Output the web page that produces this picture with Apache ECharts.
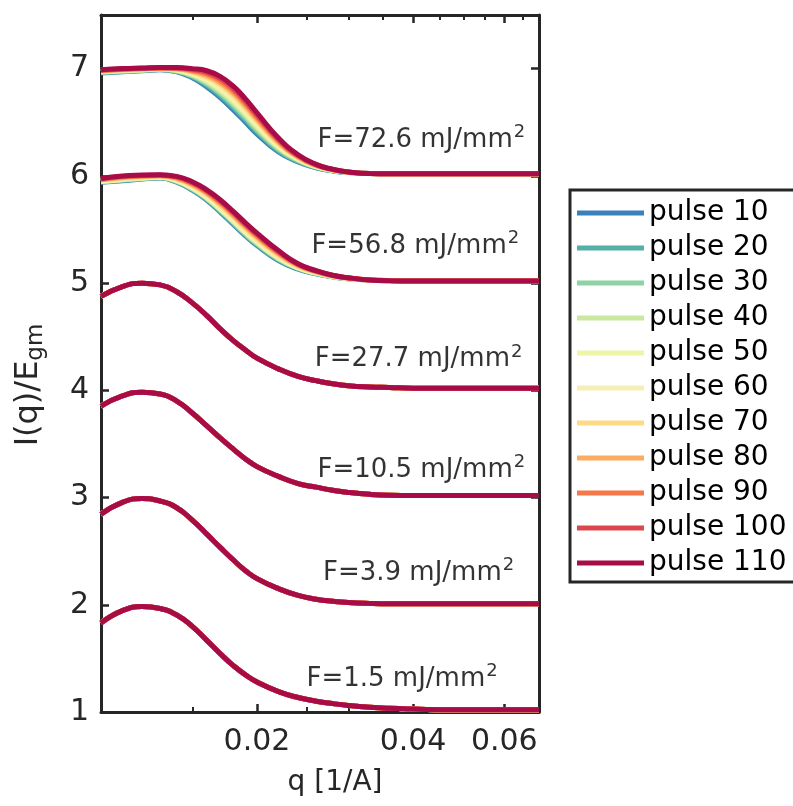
<!DOCTYPE html>
<html>
<head>
<meta charset="utf-8">
<script src="https://cdn.jsdelivr.net/npm/echarts@6/dist/echarts.min.js"></script>
<style>
html,body{margin:0;padding:0;background:#fff;}
#chart{width:793px;height:806px;}
</style>
</head>
<body>
<div id="chart"></div>
<script>
// ---- data ----
const qValues = [0.010,0.011,0.012,0.013,0.014,0.015,0.016,0.017,0.018,0.019,0.020,0.022,0.024,0.026,0.028,0.030,0.033,0.036,0.040,0.045,0.050,0.060,0.070];

const pulses = ['pulse 10','pulse 20','pulse 30','pulse 40','pulse 50','pulse 60','pulse 70','pulse 80','pulse 90','pulse 100','pulse 110'];
const pulseColors = ['#3a80bb','#52b0a8','#8dd3a4','#cbe99e','#ecf6a6','#f6efb5','#fddb85','#fdab60','#f5784a','#dc474d','#a80c48'];

const fluences = ['F=1.5 mJ/mm','F=3.9 mJ/mm','F=10.5 mJ/mm','F=27.7 mJ/mm','F=56.8 mJ/mm','F=72.6 mJ/mm'];
const labelQ = [0.0381,0.0410,0.0415,0.0410,0.0404,0.0415];
const labelY = [1.305,2.295,3.255,4.285,5.345,6.335];

// curves whose pulses overlap (same for all pulses)
const curveF1p5  = [1.83,1.945,1.983,1.965,1.905,1.798,1.668,1.542,1.433,1.346,1.279,1.19,1.135,1.101,1.078,1.061,1.044,1.034,1.027,1.022,1.02,1.02,1.02];
const curveF3p9  = [2.845,2.955,2.99,2.968,2.905,2.79,2.659,2.533,2.418,2.318,2.244,2.15,2.087,2.052,2.033,2.021,2.013,2.01,2.01,2.01,2.01,2.01,2.01];
const curveF10p5 = [3.853,3.948,3.982,3.965,3.9,3.788,3.669,3.554,3.452,3.36,3.288,3.197,3.13,3.097,3.068,3.048,3.03,3.022,3.02,3.02,3.02,3.02,3.02];
const curveF27p7 = [4.875,4.967,4.999,4.983,4.919,4.815,4.697,4.571,4.464,4.376,4.30,4.20,4.13,4.09,4.061,4.043,4.031,4.026,4.02,4.02,4.02,4.02,4.02];

// F=56.8: one row per pulse (10..110)
const curvesF56p8 = [
  [5.94,5.955,5.97,5.98,5.94,5.866,5.772,5.66,5.547,5.44,5.35,5.21,5.13,5.087,5.058,5.04,5.029,5.023,5.02,5.02,5.02,5.02,5.02],
  [5.943,5.959,5.973,5.982,5.944,5.872,5.78,5.669,5.557,5.45,5.359,5.217,5.134,5.089,5.059,5.041,5.029,5.023,5.02,5.02,5.02,5.02,5.02],
  [5.945,5.962,5.976,5.985,5.948,5.878,5.787,5.677,5.565,5.458,5.367,5.224,5.138,5.091,5.06,5.042,5.029,5.023,5.02,5.02,5.02,5.02,5.02],
  [5.948,5.965,5.978,5.987,5.952,5.883,5.794,5.685,5.574,5.467,5.376,5.23,5.141,5.093,5.061,5.042,5.029,5.023,5.02,5.02,5.02,5.02,5.02],
  [5.95,5.967,5.98,5.988,5.955,5.888,5.799,5.692,5.581,5.474,5.382,5.236,5.144,5.095,5.062,5.043,5.029,5.023,5.02,5.02,5.02,5.02,5.02],
  [5.952,5.97,5.983,5.99,5.959,5.893,5.805,5.699,5.588,5.481,5.389,5.242,5.147,5.097,5.063,5.043,5.029,5.023,5.02,5.02,5.02,5.02,5.02],
  [5.96,5.979,5.99,5.997,5.97,5.909,5.826,5.723,5.614,5.507,5.414,5.261,5.158,5.103,5.066,5.046,5.029,5.023,5.02,5.02,5.02,5.02,5.02],
  [5.964,5.985,5.995,6.0,5.977,5.92,5.839,5.738,5.629,5.523,5.429,5.273,5.164,5.107,5.068,5.047,5.029,5.023,5.02,5.02,5.02,5.02,5.02],
  [5.969,5.99,6.0,6.004,5.984,5.929,5.85,5.752,5.644,5.538,5.443,5.284,5.17,5.11,5.07,5.048,5.029,5.023,5.02,5.02,5.02,5.02,5.02],
  [5.972,5.995,6.003,6.007,5.99,5.937,5.86,5.764,5.656,5.55,5.454,5.294,5.175,5.113,5.072,5.049,5.029,5.022,5.02,5.02,5.02,5.02,5.02],
  [5.976,5.999,6.007,6.01,5.995,5.945,5.87,5.775,5.668,5.562,5.466,5.303,5.18,5.116,5.073,5.05,5.028,5.021,5.02,5.02,5.02,5.02,5.02]
];

// F=72.6: one row per pulse (10..110)
const curvesF72p6 = [
  [6.96,6.97,6.98,6.99,6.97,6.915,6.83,6.727,6.615,6.50,6.39,6.222,6.13,6.075,6.046,6.031,6.022,6.02,6.02,6.02,6.02,6.02,6.02],
  [6.963,6.973,6.983,6.992,6.974,6.924,6.845,6.747,6.637,6.522,6.41,6.235,6.137,6.078,6.048,6.032,6.022,6.02,6.02,6.02,6.02,6.02,6.02],
  [6.966,6.976,6.985,6.994,6.978,6.932,6.86,6.767,6.659,6.543,6.429,6.248,6.143,6.081,6.049,6.032,6.022,6.02,6.02,6.02,6.02,6.02,6.02],
  [6.969,6.979,6.988,6.996,6.982,6.941,6.875,6.787,6.681,6.565,6.449,6.261,6.15,6.085,6.051,6.033,6.022,6.02,6.02,6.02,6.02,6.02,6.02],
  [6.972,6.982,6.99,6.998,6.986,6.949,6.89,6.807,6.703,6.587,6.469,6.274,6.157,6.088,6.052,6.033,6.022,6.02,6.02,6.02,6.02,6.02,6.02],
  [6.975,6.985,6.993,7.0,6.99,6.958,6.905,6.827,6.726,6.609,6.489,6.288,6.164,6.091,6.054,6.034,6.022,6.02,6.02,6.02,6.02,6.02,6.02],
  [6.978,6.988,6.995,7.002,6.994,6.966,6.92,6.846,6.748,6.63,6.508,6.301,6.17,6.094,6.055,6.034,6.021,6.02,6.02,6.02,6.02,6.02,6.02],
  [6.981,6.991,6.998,7.004,6.998,6.975,6.935,6.866,6.77,6.652,6.528,6.314,6.177,6.097,6.057,6.035,6.021,6.02,6.02,6.02,6.02,6.02,6.02],
  [6.984,6.994,7.0,7.006,7.002,6.983,6.95,6.886,6.792,6.674,6.548,6.327,6.184,6.101,6.058,6.035,6.021,6.02,6.02,6.02,6.02,6.02,6.02],
  [6.987,6.997,7.003,7.008,7.006,6.992,6.965,6.906,6.814,6.695,6.567,6.34,6.19,6.104,6.06,6.036,6.021,6.02,6.02,6.02,6.02,6.02,6.02],
  [6.99,7.0,7.005,7.01,7.01,7.0,6.98,6.926,6.836,6.717,6.587,6.353,6.197,6.107,6.061,6.036,6.021,6.02,6.02,6.02,6.02,6.02,6.02]
];

// axis ticks (q values)
const majorTicks = [0.02,0.04,0.06];
const minorTicks = [0.015,0.025,0.03,0.035,0.045,0.05,0.055,0.065];
const qMin = 0.01, qMax = 0.07;
const yMin = 1, yMax = 7.5;

// ---- build ----
const AX = '#262626';
const FONT = 'DejaVu Sans';
const lg = v => Math.log10(v);

function curvesFor(fIndex, pulseIndex) {
  if (fIndex === 0) return curveF1p5;
  if (fIndex === 1) return curveF3p9;
  if (fIndex === 2) return curveF10p5;
  if (fIndex === 3) return curveF27p7;
  if (fIndex === 4) return curvesF56p8[pulseIndex];
  return curvesF72p6[pulseIndex];
}

const series = [];
for (let f = 0; f < fluences.length; f++) {
  for (let p = 0; p < pulses.length; p++) {
    const vals = curvesFor(f, p);
    series.push({
      type: 'line',
      name: pulses[p],
      xAxisIndex: 0, yAxisIndex: 0,
      data: qValues.map((q, i) => [lg(q), vals[i]]),
      showSymbol: false,
      smooth: 0.5,
      lineStyle: { width: 5, color: pulseColors[p] },
      itemStyle: { color: pulseColors[p] },
      emphasis: { disabled: true },
      z: 2
    });
  }
}
series.push({
  type: 'scatter',
  name: 'labels',
  xAxisIndex: 0, yAxisIndex: 0,
  symbolSize: 0,
  silent: true,
  z: 5,
  data: fluences.map((t, i) => [lg(labelQ[i]), labelY[i]]),
  label: {
    show: true,
    position: 'inside',
    formatter: params => '{m|' + fluences[params.dataIndex] + '}{s|2}',
    rich: {
      m: { fontSize: 26, color: '#000', fontFamily: FONT },
      s: { fontSize: 18, color: '#000', fontFamily: FONT, padding: [0, 0, 15, 1] }
    }
  }
});
// dummy series for the minor tick grid
series.push({ type: 'line', name: 'minor', xAxisIndex: 2, yAxisIndex: 2, data: [], silent: true });

const gridRect = { left: 101, top: 15, width: 438, height: 697 };

const baseX = {
  type: 'value', min: lg(qMin), max: lg(qMax),
  splitLine: { show: false },
  axisLine: { show: true, lineStyle: { color: AX, width: 3 } },
};

const option = {
  animation: false,
  textStyle: { fontFamily: FONT },
  grid: [Object.assign({}, gridRect), Object.assign({}, gridRect)],
  legend: {
    data: pulses.map(n => ({ name: n, icon: 'rect' })),
    orient: 'vertical',
    left: 570, top: 190,
    itemWidth: 67, itemHeight: 5, itemGap: 5,
    padding: [8, 20, 4, 7],
    borderColor: AX, borderWidth: 3,
    selectedMode: false,
    textStyle: { fontSize: 28, color: '#000', fontFamily: FONT, lineHeight: 30 }
  },
  xAxis: [
    Object.assign({}, baseX, {
      gridIndex: 0, position: 'bottom',
      axisTick: { show: true, inside: true, length: 8, customValues: majorTicks.map(lg), lineStyle: { color: AX, width: 2.5 } },
      axisLabel: { show: true, customValues: majorTicks.map(lg), formatter: v => Math.pow(10, v).toFixed(2), fontSize: 30, color: AX, margin: 15, fontFamily: FONT }
    }),
    Object.assign({}, baseX, {
      gridIndex: 0, position: 'top',
      axisTick: { show: true, inside: true, length: 8, customValues: majorTicks.map(lg), lineStyle: { color: AX, width: 2.5 } },
      axisLabel: { show: false }
    }),
    Object.assign({}, baseX, {
      gridIndex: 1, position: 'bottom',
      axisLine: { show: false },
      axisTick: { show: true, inside: true, length: 5, customValues: minorTicks.map(lg), lineStyle: { color: AX, width: 2 } },
      axisLabel: { show: false }
    }),
    Object.assign({}, baseX, {
      gridIndex: 1, position: 'top',
      axisLine: { show: false },
      axisTick: { show: true, inside: true, length: 5, customValues: minorTicks.map(lg), lineStyle: { color: AX, width: 2 } },
      axisLabel: { show: false }
    })
  ],
  yAxis: [
    {
      type: 'value', gridIndex: 0, position: 'left', min: yMin, max: yMax, interval: 1,
      splitLine: { show: false },
      axisLine: { show: true, lineStyle: { color: AX, width: 3 } },
      axisTick: { show: true, inside: true, length: 8, lineStyle: { color: AX, width: 2.5 } },
      axisLabel: { fontSize: 30, color: AX, margin: 12, showMaxLabel: false, fontFamily: FONT }
    },
    {
      type: 'value', gridIndex: 0, position: 'right', min: yMin, max: yMax, interval: 1,
      splitLine: { show: false },
      axisLine: { show: true, lineStyle: { color: AX, width: 3 } },
      axisTick: { show: true, inside: true, length: 8, lineStyle: { color: AX, width: 2.5 } },
      axisLabel: { show: false }
    },
    {
      type: 'value', gridIndex: 1, min: yMin, max: yMax, show: false
    }
  ],
  graphic: [
    {
      type: 'text', z: 10, x: 335, y: 783,
      style: { text: 'q [1/A]', align: 'center', verticalAlign: 'middle', fontSize: 28, fill: AX, fontFamily: FONT }
    },
    {
      type: 'text', z: 10,
      x: 29, y: 385, rotation: Math.PI / 2,
      style: {
        text: '{a|I(q)/E}{b|gm}', align: 'center', verticalAlign: 'middle',
        rich: {
          a: { fontSize: 32, fill: AX, fontFamily: FONT },
          b: { fontSize: 23, fill: AX, fontFamily: FONT, padding: [15, 0, 0, 0] }
        }
      }
    }
  ],
  series: series
};

const chart = echarts.init(document.getElementById('chart'), null, { renderer: 'canvas' });
chart.setOption(option);
</script>
</body>
</html>
